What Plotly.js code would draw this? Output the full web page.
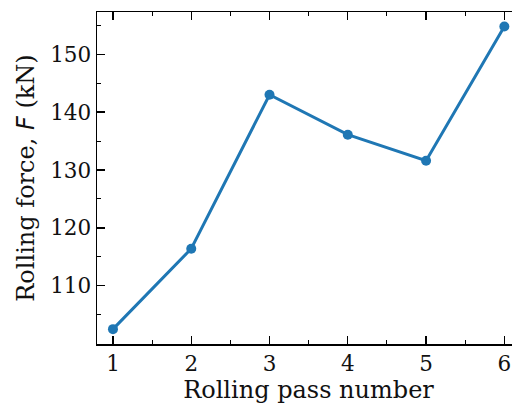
<!DOCTYPE html>
<html>
<head>
<meta charset="utf-8">
<script src="https://cdn.plot.ly/plotly-3.0.1.min.js"></script>
<style>
html,body{margin:0;padding:0;overflow:hidden;background:#fff;}
#chart{width:532px;height:406px;}
</style>
</head>
<body>
<div id="chart"></div>
<script>
const passNumbers = [1, 2, 3, 4, 5, 6];
const rollingForce = [102.5, 116.4, 143.0, 136.1, 131.6, 154.8];
const xTickVals = [1, 2, 3, 4, 5, 6];
const yTickVals = [110, 120, 130, 140, 150];

const font = {family: 'DejaVu Serif', color: '#111'};

const trace = {
  x: passNumbers,
  y: rollingForce,
  type: 'scatter',
  mode: 'lines+markers',
  line: {color: '#1f77b4', width: 3},
  marker: {color: '#1f77b4', size: 10},
  hoverinfo: 'skip'
};

const axisCommon = {
  showline: true, linecolor: '#000', linewidth: 1.5,
  mirror: 'allticks', ticks: 'inside', ticklen: 8, tickwidth: 1.3, tickcolor: '#000',
  showgrid: false, zeroline: false,
  tickfont: Object.assign({size: 21.5}, font)
};

const layout = {
  width: 532, height: 406,
  margin: {l: 97, r: 12, t: 12, b: 62},
  paper_bgcolor: '#fff', plot_bgcolor: '#fff',
  showlegend: false,
  xaxis: Object.assign({}, axisCommon, {
    range: [0.796, 6.2],
    tickmode: 'array', tickvals: xTickVals, ticktext: xTickVals.map(String),
    minor: {dtick: 0.5, ticks: 'inside', ticklen: 4, tickwidth: 1, tickcolor: '#000', showgrid: false},
    title: {text: 'Rolling pass number', font: Object.assign({size: 24}, font), standoff: 6}
  }),
  yaxis: Object.assign({}, axisCommon, {
    range: [99.93, 157.3],
    tickmode: 'array', tickvals: yTickVals, ticktext: yTickVals.map(String),
    minor: {dtick: 5, ticks: 'inside', ticklen: 4, tickwidth: 1, tickcolor: '#000', showgrid: false},
    title: {text: 'Rolling force, <span style="font-family:DejaVu Sans;font-style:italic">F</span> (kN)', font: Object.assign({size: 24}, font), standoff: 9}
  })
};

Plotly.newPlot('chart', [trace], layout, {staticPlot: true, displayModeBar: false});
</script>
</body>
</html>
